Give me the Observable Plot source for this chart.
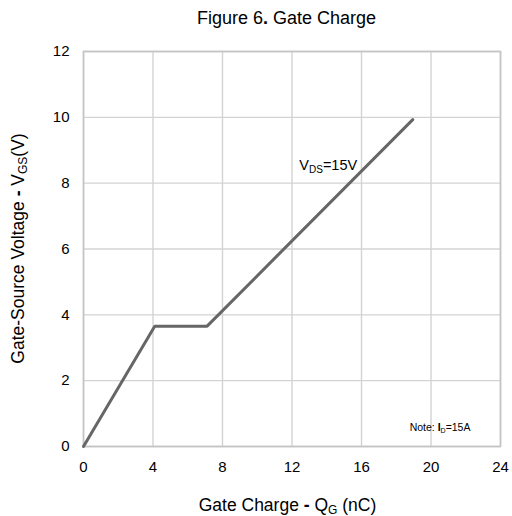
<!DOCTYPE html>
<html><head><meta charset="utf-8">
<script src="https://cdn.jsdelivr.net/npm/d3@7"></script>
<script src="https://cdn.jsdelivr.net/npm/@observablehq/plot@0.6"></script>
<style>
body{margin:0;background:#fff}
svg{font-family:"Liberation Sans",Arial,sans-serif}
</style>
</head><body><div id="chart"></div>
<script>
// Gate charge curve (V_DS = 15 V, I_D = 15 A)
const chargeQG = [0, 4.1, 7.1, 18.95];      // nC
const voltageVGS = [0, 3.65, 3.65, 9.93];   // V
const xTicks = [0, 4, 8, 12, 16, 20, 24];
const yTicks = [0, 2, 4, 6, 8, 10, 12];
const annotVds = {q: 12.45, v: 8.38};
const annotNote = {q: 22.3, v: 0.45};

const data = chargeQG.map((q, i) => ({q, v: voltageVGS[i]}));
const W = 512, H = 516, ML = 83, MR = 12, MT = 51, MB = 70;

const chart = Plot.plot({
  width: W, height: H,
  marginLeft: ML, marginRight: MR, marginTop: MT, marginBottom: MB,
  style: {fontFamily: "Liberation Sans, Arial, sans-serif", fontSize: "15px", color: "#000", background: "#fff", overflow: "visible"},
  x: {domain: [0, 24], ticks: xTicks, tickSize: 0, tickPadding: 15, label: null},
  y: {domain: [0, 12], ticks: yTicks, tickSize: 0, tickPadding: 14, label: null},
  marks: [
    Plot.gridX(xTicks, {stroke: "#d3d3d3", strokeOpacity: 1, strokeWidth: 1.4}),
    Plot.gridY(yTicks, {stroke: "#d3d3d3", strokeOpacity: 1, strokeWidth: 1.4}),
    Plot.frame({stroke: "#c4c4c4", strokeWidth: 1.6}),
    Plot.line(data, {x: "q", y: "v", stroke: "#666666", strokeWidth: 3, strokeLinejoin: "miter"})
  ]
});
document.getElementById("chart").appendChild(chart);

const svg = d3.select(chart);
const sx = chart.scale("x"), sy = chart.scale("y");
const cx = (ML + W - MR) / 2;

// Title
const t = svg.append("text").attr("x", cx - 5).attr("y", 24).attr("text-anchor", "middle")
  .attr("font-size", 18).attr("fill", "#000");
t.append("tspan").text("Figure 6");
t.append("tspan").attr("font-weight", "bold").text(".");
t.append("tspan").text(" Gate Charge");

// X label
const xl = svg.append("text").attr("x", cx - 4).attr("y", 511).attr("text-anchor", "middle")
  .attr("font-size", 17.5).attr("fill", "#000");
xl.append("tspan").text("Gate Charge ");
xl.append("tspan").attr("font-weight", "bold").text("-");
xl.append("tspan").text(" Q");
xl.append("tspan").attr("font-size", 12).attr("dy", 3).text("G");
xl.append("tspan").attr("dy", -3).text(" (nC)");

// Y label
const yl = svg.append("text").attr("transform", `translate(24,${(MT + H - MB) / 2}) rotate(-90)`)
  .attr("text-anchor", "middle").attr("font-size", 17.5).attr("fill", "#000");
yl.append("tspan").text("Gate-Source Voltage ");
yl.append("tspan").attr("font-weight", "bold").text("-");
yl.append("tspan").text(" V");
yl.append("tspan").attr("font-size", 12).attr("dy", 3).text("GS");
yl.append("tspan").attr("dy", -3).text("(V)");

// V_DS annotation
const va = svg.append("text").attr("x", sx.apply(annotVds.q)).attr("y", sy.apply(annotVds.v))
  .attr("text-anchor", "start").attr("font-size", 14.5).attr("fill", "#000");
va.append("tspan").text("V");
va.append("tspan").attr("font-size", 10).attr("dy", 3).text("DS");
va.append("tspan").attr("dy", -3).text("=15V");

// Note annotation
const na = svg.append("text").attr("x", sx.apply(annotNote.q)).attr("y", sy.apply(annotNote.v))
  .attr("text-anchor", "end").attr("font-size", 10.5).attr("fill", "#000");
na.append("tspan").text("Note: ");
na.append("tspan").attr("font-weight", "bold").text("I");
na.append("tspan").attr("font-size", 7).attr("dy", 2).text("D");
na.append("tspan").attr("dy", -2).text("=15A");
</script>
</body></html>
